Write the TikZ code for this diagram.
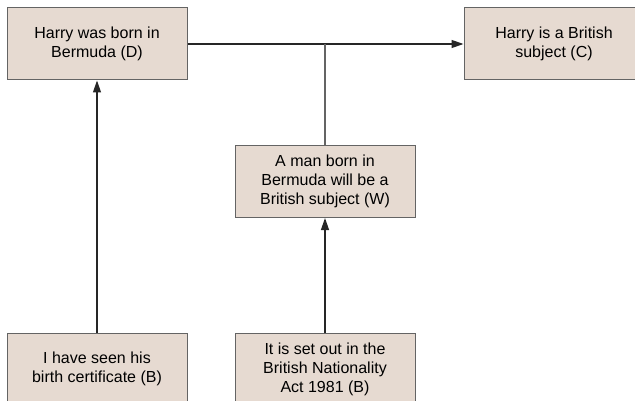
\documentclass[tikz,border=0pt]{standalone}
\usepackage{fontspec}
\setmainfont{Liberation Sans}
\usepackage{xcolor}
\usepackage{tikz}
\usetikzlibrary{arrows.meta,positioning,calc}
\definecolor{cBox}{HTML}{E6DAD1}
\definecolor{cEdge}{HTML}{646464}
\definecolor{cLine}{HTML}{262626}
\tikzset{
  claim/.style ={draw=cEdge, fill=cBox, line width=1pt, align=center,
                 font=\fontsize{16}{19}\selectfont, minimum width=180pt,
                 minimum height=72pt, inner sep=3pt},
  arrow/.style ={-{Triangle[length=12pt,width=8pt]}, line width=1.3pt, draw=cLine},
  plain/.style ={line width=1.3pt, draw=cEdge},
}

\begin{document}
\begin{tikzpicture}[x=1pt, y=1pt]
    \useasboundingbox (0,0) rectangle (635,-401);
    \clip (0,0) rectangle (635,-401);
    \node[claim] (born) at (97,-44) {Harry was born in\\Bermuda (D)};
    \node[claim, right=276pt of born] (subj) {Harry is a British\\subject (C)};
    \node[claim] (warrant) at (325,-181.5) {A man born in\\Bermuda will be a\\British subject (W)};
    \node[claim, below=252pt of born] (cert) {I have seen his\\birth certificate (B)};
    \node[claim, below=115pt of warrant] (act) {It is set out in the\\British Nationality\\Act 1981 (B)};
    \coordinate (join) at (warrant.north |- born.east);
    \draw[arrow](born.east)--(subj.west);
    \draw[plain](warrant.north)--(join);
    \draw[arrow](cert.north)--(born.south);\draw[arrow](act.north)--(warrant.south);
\end{tikzpicture}
\end{document}
